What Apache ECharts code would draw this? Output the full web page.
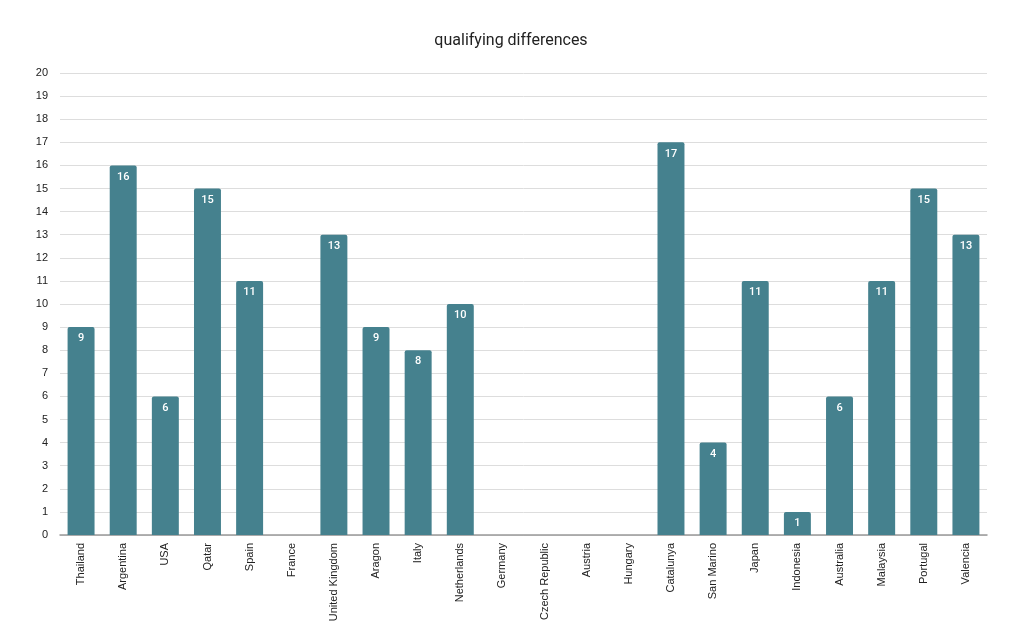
<!DOCTYPE html>
<html><head><meta charset="utf-8">
<script src="https://cdn.jsdelivr.net/npm/echarts@6/dist/echarts.min.js"></script>
<style>html,body{margin:0;padding:0;background:#fff}#c{width:1022px;height:640px}</style>
</head><body><div id="c"></div>
<script>
const categories = ["Thailand","Argentina","USA","Qatar","Spain","France","United Kingdom","Aragon","Italy","Netherlands","Germany","Czech Republic","Austria","Hungary","Catalunya","San Marino","Japan","Indonesia","Australia","Malaysia","Portugal","Valencia"];
const values = [9,16,6,15,11,null,13,9,8,10,null,null,null,null,17,4,11,1,6,11,15,13];
const titleText = "qualifying differences";

const chart = echarts.init(document.getElementById('c'), null, {renderer:'canvas'});
chart.setOption({
  animation:false,
  backgroundColor:'#fff',
  title:{text:titleText,left:'center',top:28,textStyle:{fontFamily:'Roboto, Arial',fontSize:16,fontWeight:'normal',color:'#222'}},
  grid:{left:60,right:35,top:73,bottom:105},
  xAxis:{type:'category',data:categories,
    axisLine:{lineStyle:{color:'#999',width:1.5}},axisTick:{show:false},
    axisLabel:{rotate:90,interval:0,fontFamily:'Arial, Liberation Sans',fontSize:11,color:'#222',margin:8}},
  yAxis:{type:'value',min:0,max:20,interval:1,
    axisLine:{show:false},axisTick:{show:false},
    splitLine:{lineStyle:{color:'#ddd'}},
    axisLabel:{fontFamily:'Arial, Liberation Sans',fontSize:11,color:'#222',margin:12}},
  series:[{type:'bar',data:values,barCategoryGap:'36%',
    itemStyle:{color:'#45818e',borderRadius:[2,2,0,0]},
    label:{show:true,position:'insideTop',distance:6,color:'#fff',fontFamily:'Roboto, Arial',fontSize:11,fontWeight:500}}]
});
</script></body></html>
